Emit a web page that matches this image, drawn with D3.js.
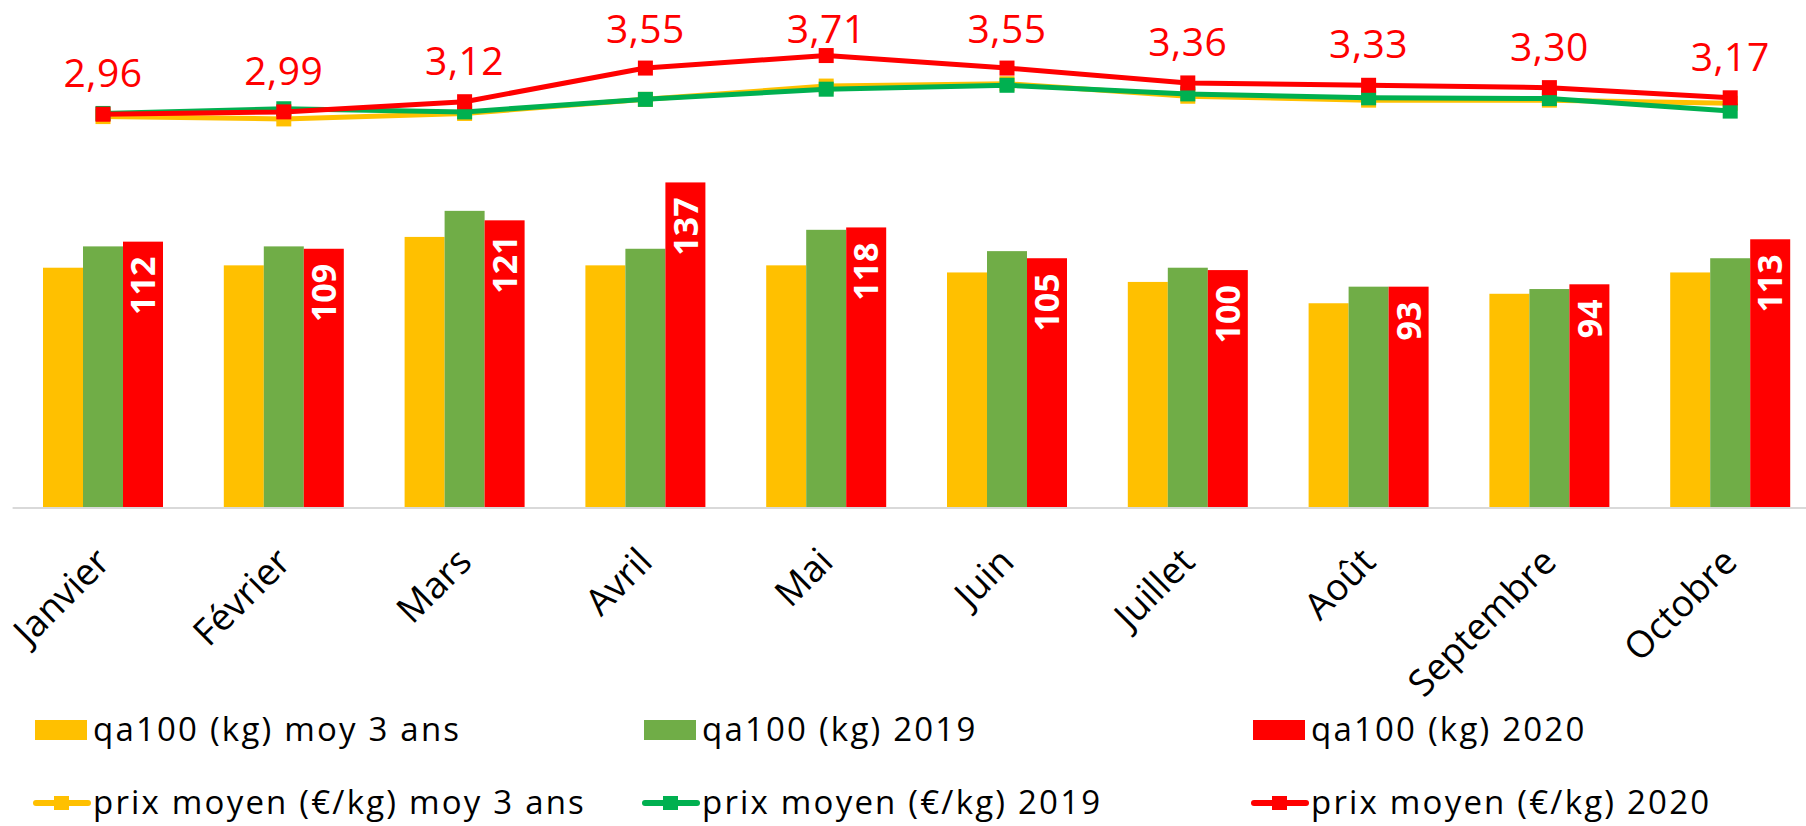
<!DOCTYPE html>
<html>
<head>
<meta charset="utf-8">
<script src="https://cdn.jsdelivr.net/npm/d3@7"></script>
<style>
  body { margin: 0; background: #fff; }
  text { font-family: "Open Sans", sans-serif; }
</style>
</head>
<body>
<div id="chart"></div>
<script>
const months = ["Janvier", "Février", "Mars", "Avril", "Mai", "Juin", "Juillet", "Août", "Septembre", "Octobre"];

// quantités achetées pour 100 ménages (kg)
const qaMoy3 = [101, 102, 114, 102, 102, 99, 95, 86, 90, 99];
const qa2019 = [110, 110, 125, 109, 117, 108, 101, 93, 92, 105];
const qa2020 = [112, 109, 121, 137, 118, 105, 100, 93, 94, 113];

// prix moyen (€/kg)
const prixMoy3 = [2.93, 2.90, 2.97, 3.15, 3.32, 3.35, 3.19, 3.14, 3.14, 3.10];
const prix2019 = [2.97, 3.03, 2.99, 3.15, 3.28, 3.33, 3.22, 3.17, 3.16, 3.00];
const prix2020 = [2.96, 2.99, 3.12, 3.55, 3.71, 3.55, 3.36, 3.33, 3.30, 3.17];

const barNames = ["qa100 (kg) moy 3 ans", "qa100 (kg) 2019", "qa100 (kg) 2020"];
const lineNames = ["prix moyen (€/kg) moy 3 ans", "prix moyen (€/kg) 2019", "prix moyen (€/kg) 2020"];

const width = 1806;
const height = 826;
const baseline = 507;

const barColors = ["#FFC000", "#70AD47", "#FF0000"];
const lineColors = ["#FFC000", "#00B050", "#FF0000"];

const frFormat = d3.formatLocale({ decimal: ",", thousands: " ", grouping: [3], currency: ["", " €"] });
const prixFmt = frFormat.format(".2f");

const svg = d3
  .select("#chart")
  .append("svg")
  .attr("width", width)
  .attr("height", height)
  .style("background", "#fff");

const xScale = d3
  .scaleBand()
  .domain(months)
  .range([12.6, 1820.6])
  .padding(0);

const barSeries = [qaMoy3, qa2019, qa2020];
const lineSeries = [prixMoy3, prix2019, prix2020];

const groupWidth = 120;
const xInner = d3
  .scaleBand()
  .domain(d3.range(barSeries.length))
  .range([-groupWidth / 2, groupWidth / 2])
  .padding(0);

const yBar = d3.scaleLinear().domain([0, 214]).range([baseline, 0]);
const yPrix = d3.scaleLinear().domain([-2.06, 4.42]).range([baseline, 0]);

const center = m => xScale(m) + xScale.bandwidth() / 2;

// barres
barSeries.forEach(function(values, s) {
  svg
    .append("g")
    .selectAll("rect")
    .data(values)
    .enter()
    .append("rect")
    .attr("x", (d, i) => center(months[i]) + xInner(s))
    .attr("y", d => yBar(d))
    .attr("width", xInner.bandwidth())
    .attr("height", d => baseline - yBar(d))
    .attr("fill", barColors[s]);
});

// étiquettes des barres 2020
svg
  .append("g")
  .selectAll("text")
  .data(qa2020)
  .enter()
  .append("text")
  .attr("transform", function(d, i) {
    const x = center(months[i]) + xInner(2) + xInner.bandwidth() / 2;
    return `translate(${x}, ${yBar(d) + 15}) rotate(-90)`;
  })
  .attr("text-anchor", "end")
  .attr("dy", "0.36em")
  .attr("fill", "#fff")
  .attr("font-weight", "bold")
  .attr("font-size", 34)
  .text(d => d);

// axe des abscisses
svg
  .append("line")
  .attr("x1", 12.6)
  .attr("x2", width)
  .attr("y1", baseline + 1)
  .attr("y2", baseline + 1)
  .attr("stroke", "#d9d9d9")
  .attr("stroke-width", 2);

svg
  .append("g")
  .selectAll("text")
  .data(months)
  .enter()
  .append("text")
  .attr("transform", d => `translate(${center(d) + 9}, ${baseline + 57}) rotate(-45)`)
  .attr("text-anchor", "end")
  .attr("font-size", 37)
  .attr("fill", "#000")
  .text(d => d);

// courbes de prix
const line = d3
  .line()
  .x((d, i) => center(months[i]))
  .y(d => yPrix(d));

const markerSize = 15;

lineSeries.forEach(function(values, s) {
  const g = svg.append("g");
  g.append("path")
    .datum(values)
    .attr("d", line)
    .attr("fill", "none")
    .attr("stroke", lineColors[s])
    .attr("stroke-width", 5)
    .attr("stroke-linejoin", "round");
  g.selectAll("rect")
    .data(values)
    .enter()
    .append("rect")
    .attr("x", (d, i) => center(months[i]) - markerSize / 2)
    .attr("y", d => yPrix(d) - markerSize / 2)
    .attr("width", markerSize)
    .attr("height", markerSize)
    .attr("fill", lineColors[s]);
});

// étiquettes prix 2020
svg
  .append("g")
  .selectAll("text")
  .data(prix2020)
  .enter()
  .append("text")
  .attr("x", (d, i) => center(months[i]))
  .attr("y", d => Math.max(yPrix(d) - 27, 43))
  .attr("text-anchor", "middle")
  .attr("font-size", 39)
  .attr("letter-spacing", 0.5)
  .attr("fill", "#FF0000")
  .text(d => prixFmt(d));

// légende
const legendX = [35, 644, 1253];
const row1 = 730;
const row2 = 803;

const legend = svg.append("g");

barNames.forEach(function(name, i) {
  legend
    .append("rect")
    .attr("x", legendX[i])
    .attr("y", row1 - 10)
    .attr("width", 52)
    .attr("height", 20)
    .attr("fill", barColors[i]);
  legend
    .append("text")
    .attr("x", legendX[i] + 58)
    .attr("y", row1)
    .attr("dy", "0.32em")
    .attr("font-size", 33)
    .attr("letter-spacing", 2.2)
    .attr("fill", "#000")
    .text(name);
});

lineNames.forEach(function(name, i) {
  legend
    .append("line")
    .attr("x1", legendX[i] + 1)
    .attr("x2", legendX[i] + 53)
    .attr("y1", row2)
    .attr("y2", row2)
    .attr("stroke", lineColors[i])
    .attr("stroke-width", 6)
    .attr("stroke-linecap", "round");
  legend
    .append("rect")
    .attr("x", legendX[i] + 19)
    .attr("y", row2 - 7)
    .attr("width", 15)
    .attr("height", 14)
    .attr("fill", lineColors[i]);
  legend
    .append("text")
    .attr("x", legendX[i] + 58)
    .attr("y", row2)
    .attr("dy", "0.32em")
    .attr("font-size", 33)
    .attr("letter-spacing", 2.2)
    .attr("fill", "#000")
    .text(name);
});
</script>
</body>
</html>
